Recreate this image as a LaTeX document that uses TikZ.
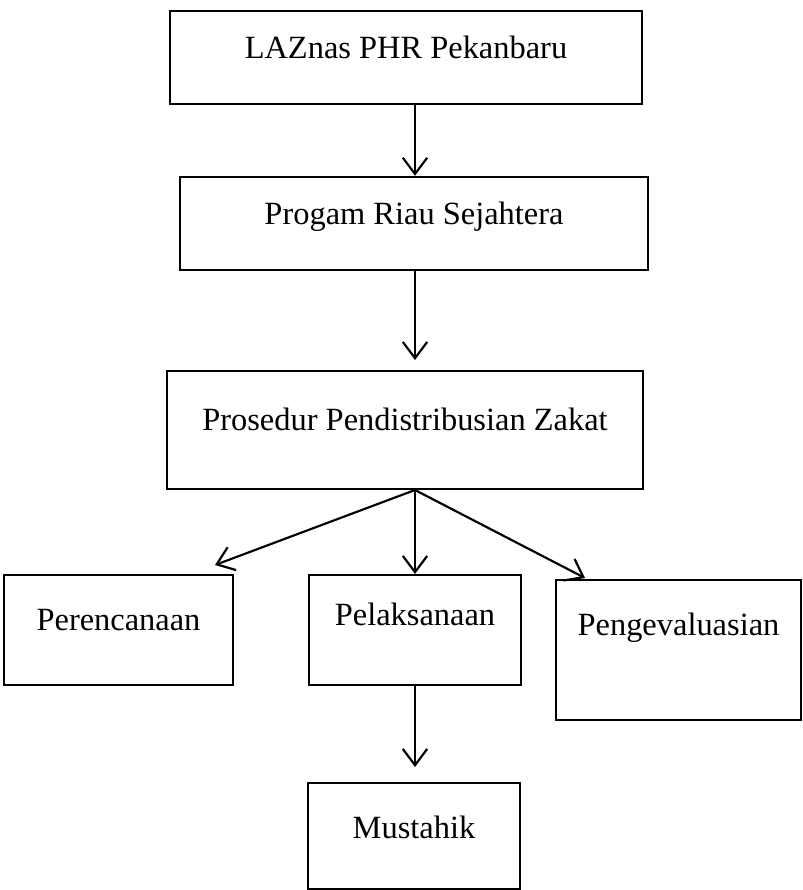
\documentclass[tikz,border=0pt]{standalone}
\usepackage{fontspec}
\setmainfont{Liberation Serif}
\usetikzlibrary{arrows.meta}
\tikzset{
  stage/.style={draw, line width=0.8pt, inner xsep=0pt, inner ysep=0pt, font=\fontsize{12}{14}\selectfont},
  flow/.style={line width=0.8pt, -{Straight Barb[length=6pt,width=9pt,line width=0.8pt]}}
}
\begin{document}
\begin{tikzpicture}[x=0.37pt,y=-0.37pt]
        \useasboundingbox (0,0) rectangle (803,890);
        %boxes
        \node[stage, minimum width=174.6pt, text height=17.4pt, text depth=17.0pt] (laz) at (406,57.5) {LAZnas PHR Pekanbaru};
        \node[stage, minimum width=173.2pt, text height=17.8pt, text depth=16.7pt] (prog) at (414,223.5) {Progam Riau Sejahtera};
        \node[stage, minimum width=176.1pt, text height=21.8pt, text depth=21.8pt] (pros) at (405,430) {Prosedur Pendistribusian Zakat};
        \node[stage, minimum width=84.7pt, text height=20.4pt, text depth=20.4pt] (plan) at (118.5,630) {Perencanaan};
        \node[stage, minimum width=78.4pt, text height=18.5pt, text depth=22.2pt] (exec) at (415,630) {Pelaksanaan};
        \node[stage, minimum width=90.7pt, text height=20.4pt, text depth=31.5pt] (eval) at (678.5,650) {Pengevaluasian};
        \node[stage, minimum width=78.4pt, text height=20.7pt, text depth=18.5pt] (mus) at (414,836) {Mustahik};
        %arrow ends
        \coordinate (axis) at (415,0);
        \coordinate (t2) at (415,360);
        \coordinate (t3) at (215,565);
        \coordinate (t4) at (585,578);
        \coordinate (t5) at (415,767);
        %arrows
        \draw[flow] (laz.south -| axis) -- (prog.north -| axis);
        \draw[flow] (prog.south -| axis) -- (t2);
        \draw[flow] (pros.south -| axis) -- (t3);
        \draw[flow] (pros.south -| axis) -- (exec.north -| axis);
        \draw[flow] (pros.south -| axis) -- (t4);
        \draw[flow] (exec.south -| axis) -- (t5);
\end{tikzpicture}
\end{document}
